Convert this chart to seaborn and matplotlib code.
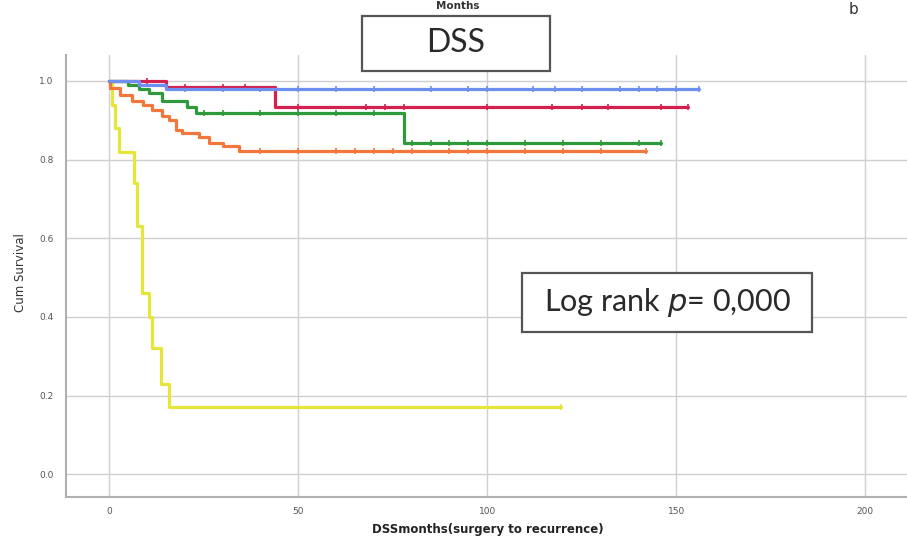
import pandas as pd
import matplotlib
matplotlib.use("Agg")
import matplotlib.pyplot as plt
from matplotlib.patches import Rectangle
import seaborn as sns

# KM curves (months, cumulative survival)
blue_t = [0, 8, 15, 156]
blue_s = [1.0, 0.99, 0.98, 0.98]
crimson_t = [0, 15, 44, 153]
crimson_s = [1.0, 0.985, 0.935, 0.935]
green_t = [0, 5, 8, 10.6, 14, 20.6, 23, 78, 146]
green_s = [1.0, 0.99, 0.98, 0.97, 0.95, 0.935, 0.918, 0.842, 0.842]
orange_t = [0, 0.3, 3, 6, 9, 11.4, 14, 15.9, 17.7, 19.3, 23.8, 26.5, 30, 34.4, 142]
orange_s = [1.0, 0.982, 0.965, 0.95, 0.94, 0.926, 0.912, 0.90, 0.875, 0.867, 0.858, 0.842, 0.835, 0.822, 0.822]
yellow_t = [0, 0.8, 1.6, 2.6, 6.6, 7.4, 8.7, 10.6, 11.4, 13.8, 15.9, 119.5]
yellow_s = [1.0, 0.94, 0.88, 0.82, 0.74, 0.63, 0.46, 0.40, 0.32, 0.23, 0.17, 0.17]

# censored cases (tick marks)
blue_cens = [20, 30, 40, 50, 60, 70, 85, 95, 100, 112, 118, 125, 135, 140, 145, 150, 156]
crimson_cens = [10, 20, 30, 36, 50, 68, 73, 78, 100, 117, 125, 132, 146, 153]
green_cens = [25, 30, 40, 50, 60, 70, 80, 85, 90, 95, 100, 110, 120, 130, 140, 146]
orange_cens = [40, 50, 60, 65, 70, 75, 80, 90, 95, 100, 110, 120, 130, 142]
yellow_cens = [119.5]

xticks = [0, 50, 100, 150, 200]
yticks = [0.0, 0.2, 0.4, 0.6, 0.8, 1.0]

colors = {"blue": "#6f8ff0", "crimson": "#d4204f", "green": "#2f9a3c",
          "orange": "#f2773a", "yellow": "#e6e63a"}

curves = {"blue": (blue_t, blue_s, blue_cens),
          "crimson": (crimson_t, crimson_s, crimson_cens),
          "green": (green_t, green_s, green_cens),
          "orange": (orange_t, orange_s, orange_cens),
          "yellow": (yellow_t, yellow_s, yellow_cens)}


def step_value(t, s, x):
    v = s[0]
    for ti, si in zip(t, s):
        if ti <= x:
            v = si
    return v


rows = []
cens_rows = []
for g, (t, s, c) in curves.items():
    for ti, si in zip(t, s):
        rows.append({"months": ti, "surv": si, "group": g})
    for ci in c:
        cens_rows.append({"months": ci, "surv": step_value(t, s, ci), "group": g})
df = pd.DataFrame(rows)
cens = pd.DataFrame(cens_rows)

sns.set_style("white")
fig = plt.figure(figsize=(9.07, 5.38), dpi=100)
ax = fig.add_axes([66 / 907, 1 - 497 / 538, 1 - 66 / 907, (497 - 55) / 538])

order = ["yellow", "orange", "green", "crimson", "blue"]
for g in order:
    sub = df[df["group"] == g]
    sns.lineplot(data=sub, x="months", y="surv", color=colors[g], lw=2.3,
                 drawstyle="steps-post", estimator=None, sort=False, ax=ax,
                 legend=False)
    sc = cens[cens["group"] == g]
    sns.scatterplot(data=sc, x="months", y="surv", color=colors[g], marker="|",
                    s=25, linewidth=1.2, ax=ax, legend=False)

ax.set_xlim(-11.4, 211)
ax.set_ylim(-0.058, 1.066)
ax.set_xticks(xticks)
ax.set_xticklabels([str(x) for x in xticks])
ax.set_yticks(yticks)
ax.set_yticklabels([f"{y:.1f}" for y in yticks])
ax.tick_params(axis="y", labelsize=6.5, colors="#555555", length=0, pad=9)
ax.tick_params(axis="x", labelsize=6.5, colors="#555555", length=0, pad=7)
ax.grid(True, color="#cfcfcf", lw=1)
for side in ["top", "right"]:
    ax.spines[side].set_visible(False)
for side in ["left", "bottom"]:
    ax.spines[side].set_color("#b0b0b0")
    ax.spines[side].set_linewidth(1.5)
ax.set_xlabel("")
ax.set_ylabel("")

fig.text(21 / 907, 1 - 273 / 538, "Cum Survival", rotation=90, ha="center",
         va="center", fontsize=8.5, color="#333333")
fig.text(488 / 907, 1 - 536 / 538, "DSSmonths(surgery to recurrence)", ha="center",
         va="bottom", fontsize=8.5, fontweight="bold", color="#222222")
fig.text(458 / 907, 1 - 1 / 538, "Months", ha="center", va="top",
         fontsize=7.5, fontweight="bold", color="#333333")
fig.text(854 / 907, 1 - 2 / 538, "b", ha="center", va="top",
         fontsize=11, color="#333333")


def boxed(x0, y0, x1, y1, label, size):
    fig.patches.append(Rectangle((x0 / 907, 1 - y1 / 538), (x1 - x0) / 907,
                                 (y1 - y0) / 538, transform=fig.transFigure,
                                 facecolor="white", edgecolor="#555555", lw=1.6,
                                 zorder=5))
    fig.text((x0 + x1) / 2 / 907, 1 - (y0 + y1) / 2 / 538, label, ha="center",
             va="center", fontsize=size, family="Lato", color="#2a2a2a", zorder=6)


boxed(362, 16, 550, 71, "DSS", 23)
boxed(522, 273, 812, 332, "Log rank $\\it{p}$= 0,000", 22)

fig.savefig("out.png", dpi=100)
